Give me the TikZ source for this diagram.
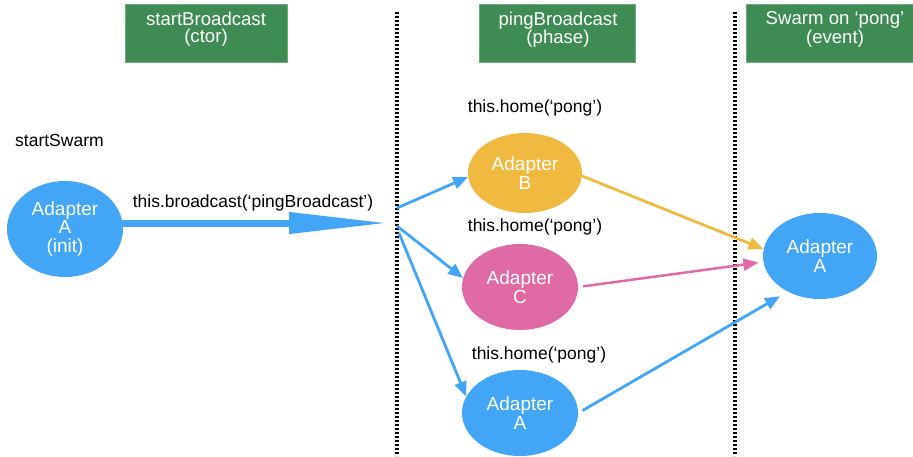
\documentclass[tikz,border=0pt]{standalone}
\usepackage{fontspec}
\setmainfont{Liberation Sans}
\usetikzlibrary{shapes.geometric,arrows.meta}
\definecolor{cblue}{RGB}{66,165,245}
\definecolor{cyellow}{RGB}{240,186,64}
\definecolor{cpink}{RGB}{223,106,165}
\definecolor{cgreen}{RGB}{62,140,84}
\begin{document}
\begin{tikzpicture}[x=1pt,y=-1pt,
 gbox/.style={fill=cgreen, draw=cgreen!75!white, line width=0.8pt, minimum height=58pt, inner sep=0pt},
 gtext/.style={text=white, align=center, font=\fontsize{18.6}{17}\selectfont, inner sep=0pt},
 adapter/.style={ellipse, inner sep=0pt, text=white, align=center, font=\fontsize{19}{18.5}\selectfont},
 lbl/.style={font=\fontsize{17.5}{20}\selectfont, inner sep=0pt, text=black},
 dotline/.style={line width=3.2pt, dash pattern=on 2.4pt off 1.6pt, black},
 thinarrow/.style={line width=2.8pt, -{Triangle[length=15pt,width=12pt]}},
]
\useasboundingbox (0,0) rectangle (913,456);
% header boxes
\node[gbox, minimum width=162pt] (b1) at (206,33) {};
\node[gtext] (b1t) at (206,29.5) {startBroadcast\\(ctor)};
\node[gbox, minimum width=156pt] (b2) at (557,33) {};
\node[gtext] (b2t) at (558,29.5) {pingBroadcast\\(phase)};
\node[gbox, minimum width=178pt] (b3) at (835,33) {};
\node[gtext] (b3t) at (835,29.5) {Swarm on ‘pong’\\(event)};
% dotted separators
\coordinate (d1t) at (397,12); \coordinate (d1b) at (397,456);
\coordinate (d2t) at (735,12); \coordinate (d2b) at (735,456);
\draw[dotline] (d1t) -- (d1b);
\draw[dotline] (d2t) -- (d2b);
% labels
\node[lbl, anchor=west] (ss) at (15,140) {startSwarm};
\node[lbl] (bcl) at (253,203) {this.broadcast(‘pingBroadcast’)};
\node[lbl] (h1) at (535,108) {this.home(‘pong’)};
\node[lbl] (h2) at (535,227) {this.home(‘pong’)};
\node[lbl] (h3) at (539,355) {this.home(‘pong’)};
% adapters
\node[adapter, fill=cblue, minimum width=116pt, minimum height=96pt] (ai) at (65,229) {Adapter\\A\\(init)};
\node[adapter, fill=cyellow, minimum width=114pt, minimum height=80pt] (ab) at (525,173) {Adapter\\B};
\node[adapter, fill=cpink, minimum width=116pt, minimum height=86pt] (ac) at (520,287) {Adapter\\C};
\node[adapter, fill=cblue, minimum width=116pt, minimum height=86pt] (aa) at (520,413) {Adapter\\A};
\node[adapter, fill=cblue, minimum width=114pt, minimum height=86pt] (ar) at (820,256) {Adapter\\A};
% broadcast arrow
\coordinate (bc) at (389,223);
\draw[cblue, line width=7pt, -{Triangle[length=100pt,width=20pt]}] ([xshift=-3pt]ai.east |- bc) -- (bc);
% fan-out arrows
\coordinate (f1) at (397,208);
\coordinate (f2) at (397,226);
\coordinate (f3) at (399,233);
\draw[thinarrow, cblue] (f1) -- (ab.184);
\draw[thinarrow, cblue] (f2) -- (ac.171);
\draw[thinarrow, cblue] (f3) -- (aa.163);
% pong arrows
\draw[thinarrow, cyellow] (ab.-3) -- (ar.173);
\draw[thinarrow, cpink, line width=2.5pt, shorten <=5pt, shorten >=5pt] (ac.east) -- (ar.186);
\draw[thinarrow, cblue, shorten <=5pt, shorten >=9pt] (aa.east) -- (ar.228);
\end{tikzpicture}
\end{document}
